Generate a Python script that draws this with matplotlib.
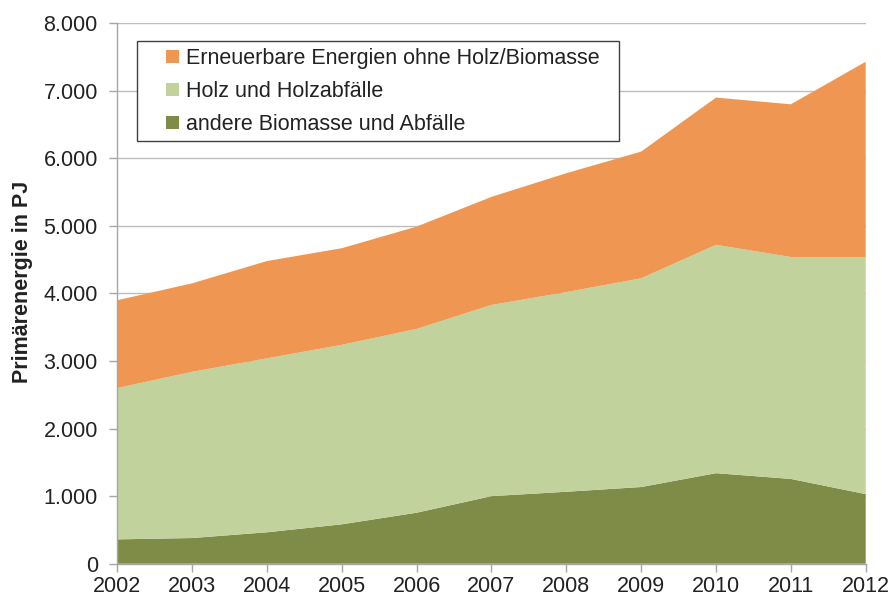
import matplotlib
matplotlib.use("Agg")
import matplotlib.pyplot as plt
from matplotlib.ticker import FuncFormatter, FixedLocator
from matplotlib.patches import Patch, Rectangle

plt.rcParams['font.family'] = ['Liberation Sans', 'DejaVu Sans']

years = [2002, 2003, 2004, 2005, 2006, 2007, 2008, 2009, 2010, 2011, 2012]
andere_biomasse = [360, 380, 465, 583, 755, 1000, 1065, 1135, 1340, 1255, 1030]
holz = [2240, 2460, 2575, 2657, 2720, 2830, 2955, 3090, 3380, 3285, 3510]
erneuerbare = [1300, 1310, 1440, 1430, 1515, 1600, 1760, 1875, 2180, 2260, 2890]

labels = ["andere Biomasse und Abfälle", "Holz und Holzabfälle",
          "Erneuerbare Energien ohne Holz/Biomasse"]
colors = ["#7F8C48", "#C1D29D", "#EF9752"]

W, H = 892, 596
fig = plt.figure(figsize=(W / 100, H / 100), dpi=100)
ax = fig.add_axes([0.1315, 0.0542, 0.839, 0.9068])

ax.stackplot(years, andere_biomasse, holz, erneuerbare, colors=colors,
             linewidth=0, zorder=2)

ax.set_xlim(2002, 2012)
ax.set_ylim(0, 8000)
ax.xaxis.set_major_locator(FixedLocator(years))
ax.yaxis.set_major_locator(FixedLocator(range(0, 8001, 1000)))
ax.yaxis.set_major_formatter(FuncFormatter(lambda v, p: f"{int(v):,}".replace(",", ".")))

ax.grid(axis='y', color='#BDBDBD', linewidth=1.0, zorder=0)
ax.set_axisbelow(True)
for s in ['top', 'right']:
    ax.spines[s].set_visible(False)
for s in ['left', 'bottom']:
    ax.spines[s].set_color('#A6A6A6')
    ax.spines[s].set_linewidth(1.0)
    ax.spines[s].set_zorder(3)

ax.tick_params(axis='both', colors='#A6A6A6', labelcolor='#222222',
               labelsize=15.5, length=6, width=1.0, direction='out')
ax.tick_params(axis='y', pad=8)
ax.tick_params(axis='x', pad=3)

ax.set_ylabel("Primärenergie in PJ", fontsize=15.5, fontweight='bold',
              color='#222222')
ax.yaxis.set_label_coords(-0.1126, 0.522)

handles = [Patch(facecolor=colors[2], edgecolor='none'),
           Patch(facecolor=colors[1], edgecolor='none'),
           Patch(facecolor=colors[0], edgecolor='none')]
leg = fig.legend(handles, [labels[2], labels[1], labels[0]],
                 loc='upper left', bbox_to_anchor=(166 / W, 1 - 48 / H),
                 bbox_transform=fig.transFigure,
                 fontsize=15.5, frameon=False,
                 handlelength=0.6, handleheight=0.6, handletextpad=0.35,
                 labelspacing=0.56, borderpad=0, borderaxespad=0)
for t in leg.get_texts():
    t.set_color('#222222')

frame = Rectangle((137.3 / W, 1 - 141 / H), 482 / W, 100.3 / H,
                  transform=fig.transFigure, facecolor='white',
                  edgecolor='#404040', linewidth=1.0, zorder=4)
fig.patches.append(frame)

fig.savefig("out.png", dpi=100)
